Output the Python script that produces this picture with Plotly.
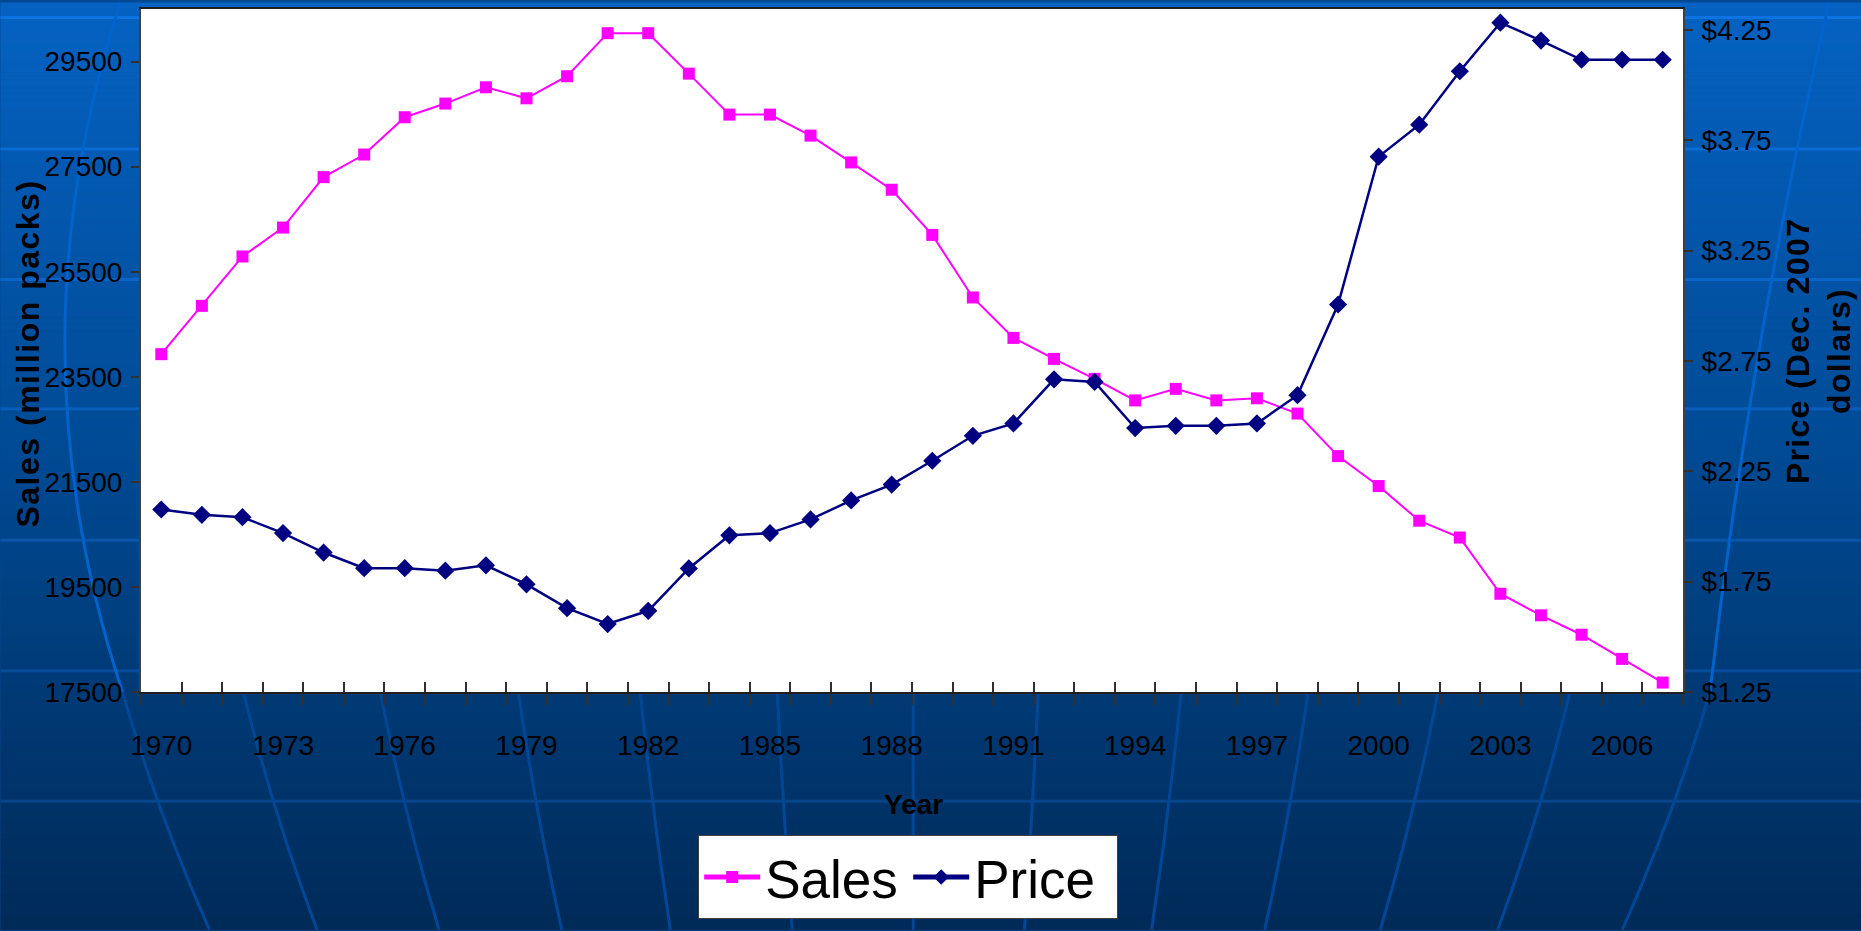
import plotly.graph_objects as go

# data
years = list(range(1970, 2008))
sales = [23930, 24850, 25790, 26340, 27300, 27730, 28440, 28700, 29010, 28800,
         29220, 30040, 30040, 29270, 28490, 28490, 28090, 27580, 27060, 26200,
         25010, 24240, 23840, 23460, 23050, 23270, 23050, 23090, 22800, 21990,
         21420, 20760, 20440, 19370, 18960, 18590, 18130, 17680]
price = [2.077, 2.053, 2.042, 1.970, 1.882, 1.811, 1.811, 1.800, 1.824, 1.738,
         1.630, 1.558, 1.618, 1.810, 1.960, 1.970, 2.032, 2.118, 2.190, 2.298,
         2.411, 2.467, 2.667, 2.655, 2.446, 2.456, 2.456, 2.467, 2.595, 3.006,
         3.676, 3.821, 4.063, 4.283, 4.202, 4.115, 4.115, 4.115]
label_years = years[::3]
sales_ticks = [17500, 19500, 21500, 23500, 25500, 27500, 29500]
price_ticks = [1.25, 1.75, 2.25, 2.75, 3.25, 3.75, 4.25]

FONT = "Liberation Sans, Arial, sans-serif"

# page / plot geometry in pixels
PW, PH = 1861, 931
L, R, T, B = 140.6, 1683.0, 6.5, 692.3
W, H = R - L, B - T


def px(x):
    return (x - L) / W


def py(y):
    return (B - y) / H


def bg_color(y):
    # piecewise gradient of the slide background
    stops = [(0, (5, 98, 194)), (450, (0, 74, 148)), (931, (0, 42, 88))]
    for (y0, c0), (y1, c1) in zip(stops[:-1], stops[1:]):
        if y <= y1:
            t = (y - y0) / (y1 - y0)
            return tuple(int(round(a + (b - a) * t)) for a, b in zip(c0, c1))
    return stops[-1][1]


def rgb(c, add=(0, 0, 0)):
    return "rgb(%d,%d,%d)" % tuple(min(255, a + b) for a, b in zip(c, add))


shapes = []
# background gradient
step = 7
for y0 in range(0, PH, step):
    c = bg_color(y0 + step / 2)
    shapes.append(dict(type="rect", xref="paper", yref="paper", layer="below",
                       x0=px(0), x1=px(PW), y0=py(y0 + step + 0.6), y1=py(y0),
                       fillcolor=rgb(c), line=dict(width=0)))

# globe decoration: horizontal lines
for yl in [15, 147, 278, 408, 540, 671, 802]:
    shapes.append(dict(type="line", xref="paper", yref="paper", layer="below",
                       x0=px(0), x1=px(PW), y0=py(yl), y1=py(yl),
                       line=dict(color=rgb(bg_color(yl), (8, 18, 34)), width=3)))

# meridians below the plot
for xt in [122, 243, 380, 518, 640, 777, 913, 1038, 1181, 1308, 1438, 1570, 1710]:
    xb = xt + (913 - xt) * 0.11
    xm = (xt + xb) / 2 + (xt - 913) * 0.012
    shapes.append(dict(type="path", xref="paper", yref="paper", layer="below",
                       path="M %f,%f Q %f,%f %f,%f" % (px(xt), py(692), px(xm), py(811),
                                                       px(xb), py(931)),
                       line=dict(color=rgb(bg_color(810), (0, 22, 48)), width=3)))

# meridians in the side margins
shapes.append(dict(type="path", xref="paper", yref="paper", layer="below",
                   path="M %f,%f Q %f,%f %f,%f" % (px(120), py(0), px(8), py(345),
                                                   px(122), py(692)),
                   line=dict(color=rgb(bg_color(350), (0, 20, 45)), width=3)))
shapes.append(dict(type="path", xref="paper", yref="paper", layer="below",
                   path="M %f,%f Q %f,%f %f,%f" % (px(1829), py(0), px(1750), py(345),
                                                   px(1710), py(692)),
                   line=dict(color=rgb(bg_color(350), (0, 20, 45)), width=3)))

# white plot area on top of the decoration
shapes.append(dict(type="rect", xref="paper", yref="paper", layer="below",
                   x0=0, x1=1, y0=0, y1=1, fillcolor="white", line=dict(width=0)))

fig = go.Figure()

fig.add_trace(go.Scatter(
    x=years, y=sales, name="Sales", mode="lines+markers",
    xaxis="x", yaxis="y",
    line=dict(color="#FF00FF", width=2),
    marker=dict(symbol="square", size=12, color="#FF00FF"),
))
fig.add_trace(go.Scatter(
    x=years, y=price, name="Price", mode="lines+markers",
    xaxis="x2", yaxis="y2",
    line=dict(color="#000080", width=2.5),
    marker=dict(symbol="diamond", size=14, color="#000080"),
))

boundaries = [y - 0.5 for y in years] + [years[-1] + 0.5]
tickfont = dict(family=FONT, size=28, color="black")

fig.update_layout(
    width=PW, height=PH,
    margin=dict(l=L, r=PW - R, t=T, b=PH - B, pad=0),
    paper_bgcolor=rgb(bg_color(465)),
    plot_bgcolor="white",
    shapes=shapes,
    showlegend=True,
    legend=dict(orientation="h", x=px(908), xanchor="center", y=py(836), yanchor="top",
                bgcolor="white", bordercolor="#404040", borderwidth=1,
                font=dict(family=FONT, size=53, color="black"),
                itemwidth=56, itemsizing="constant", entrywidth=138),
    xaxis=dict(range=[1969.5, 2007.5], tickmode="array", tickvals=label_years,
               ticktext=[str(y) for y in label_years], ticks="", showgrid=False,
               zeroline=False, showline=True, linecolor="#202020", linewidth=2,
               mirror=True, tickfont=tickfont, ticklabelstandoff=27,
               minor=dict(tickmode="array", tickvals=boundaries, ticks="outside",
                          ticklen=11, tickwidth=1.5, tickcolor="#303030", showgrid=False)),
    xaxis2=dict(overlaying="x", matches="x", anchor="y2", tickmode="array",
                tickvals=boundaries, ticks="inside", ticklen=10, tickwidth=1.5,
                tickcolor="#303030", showticklabels=False, showgrid=False,
                zeroline=False, showline=False),
    yaxis=dict(range=[17500, 30500], tickmode="array", tickvals=sales_ticks,
               ticktext=[str(v) for v in sales_ticks],
               ticks="outside", ticklen=8, tickwidth=1.5, tickcolor="#303030",
               showgrid=False, zeroline=False, showline=True, linecolor="#404040",
               linewidth=2, mirror=True, tickfont=tickfont, ticklabelstandoff=3),
    yaxis2=dict(overlaying="y", side="right", anchor="x2", range=[1.25, 4.345],
                tickmode="array", tickvals=price_ticks,
                ticktext=["$%.2f" % v for v in price_ticks],
                ticks="outside", ticklen=9, tickwidth=1.5, tickcolor="#303030",
                showgrid=False, zeroline=False, showline=False, tickfont=tickfont,
                ticklabelstandoff=3),
)

title_font = dict(family=FONT, size=32, color="black", weight="bold")
fig.add_annotation(text='<span style="letter-spacing:1.5px">Sales (million packs)</span>',
                   xref="paper", yref="paper", x=px(27.5), y=py(352.5),
                   xanchor="center", yanchor="middle", textangle=-90,
                   showarrow=False, font=title_font)
fig.add_annotation(text='<span style="letter-spacing:1.3px">Price (Dec. 2007<br>dollars)</span>',
                   xref="paper", yref="paper", x=px(1819), y=py(350),
                   xanchor="center", yanchor="middle", textangle=-90,
                   showarrow=False, font=title_font)
fig.add_annotation(text="Year", xref="paper", yref="paper", x=px(913.6), y=py(805),
                   xanchor="center", yanchor="middle", showarrow=False,
                   font=dict(family=FONT, size=28, color="black", weight="bold"))

fig.write_html("out.html", config={"displayModeBar": False},
               post_script="document.body.style.margin='0px';"
                           "document.body.style.overflow='hidden';")
